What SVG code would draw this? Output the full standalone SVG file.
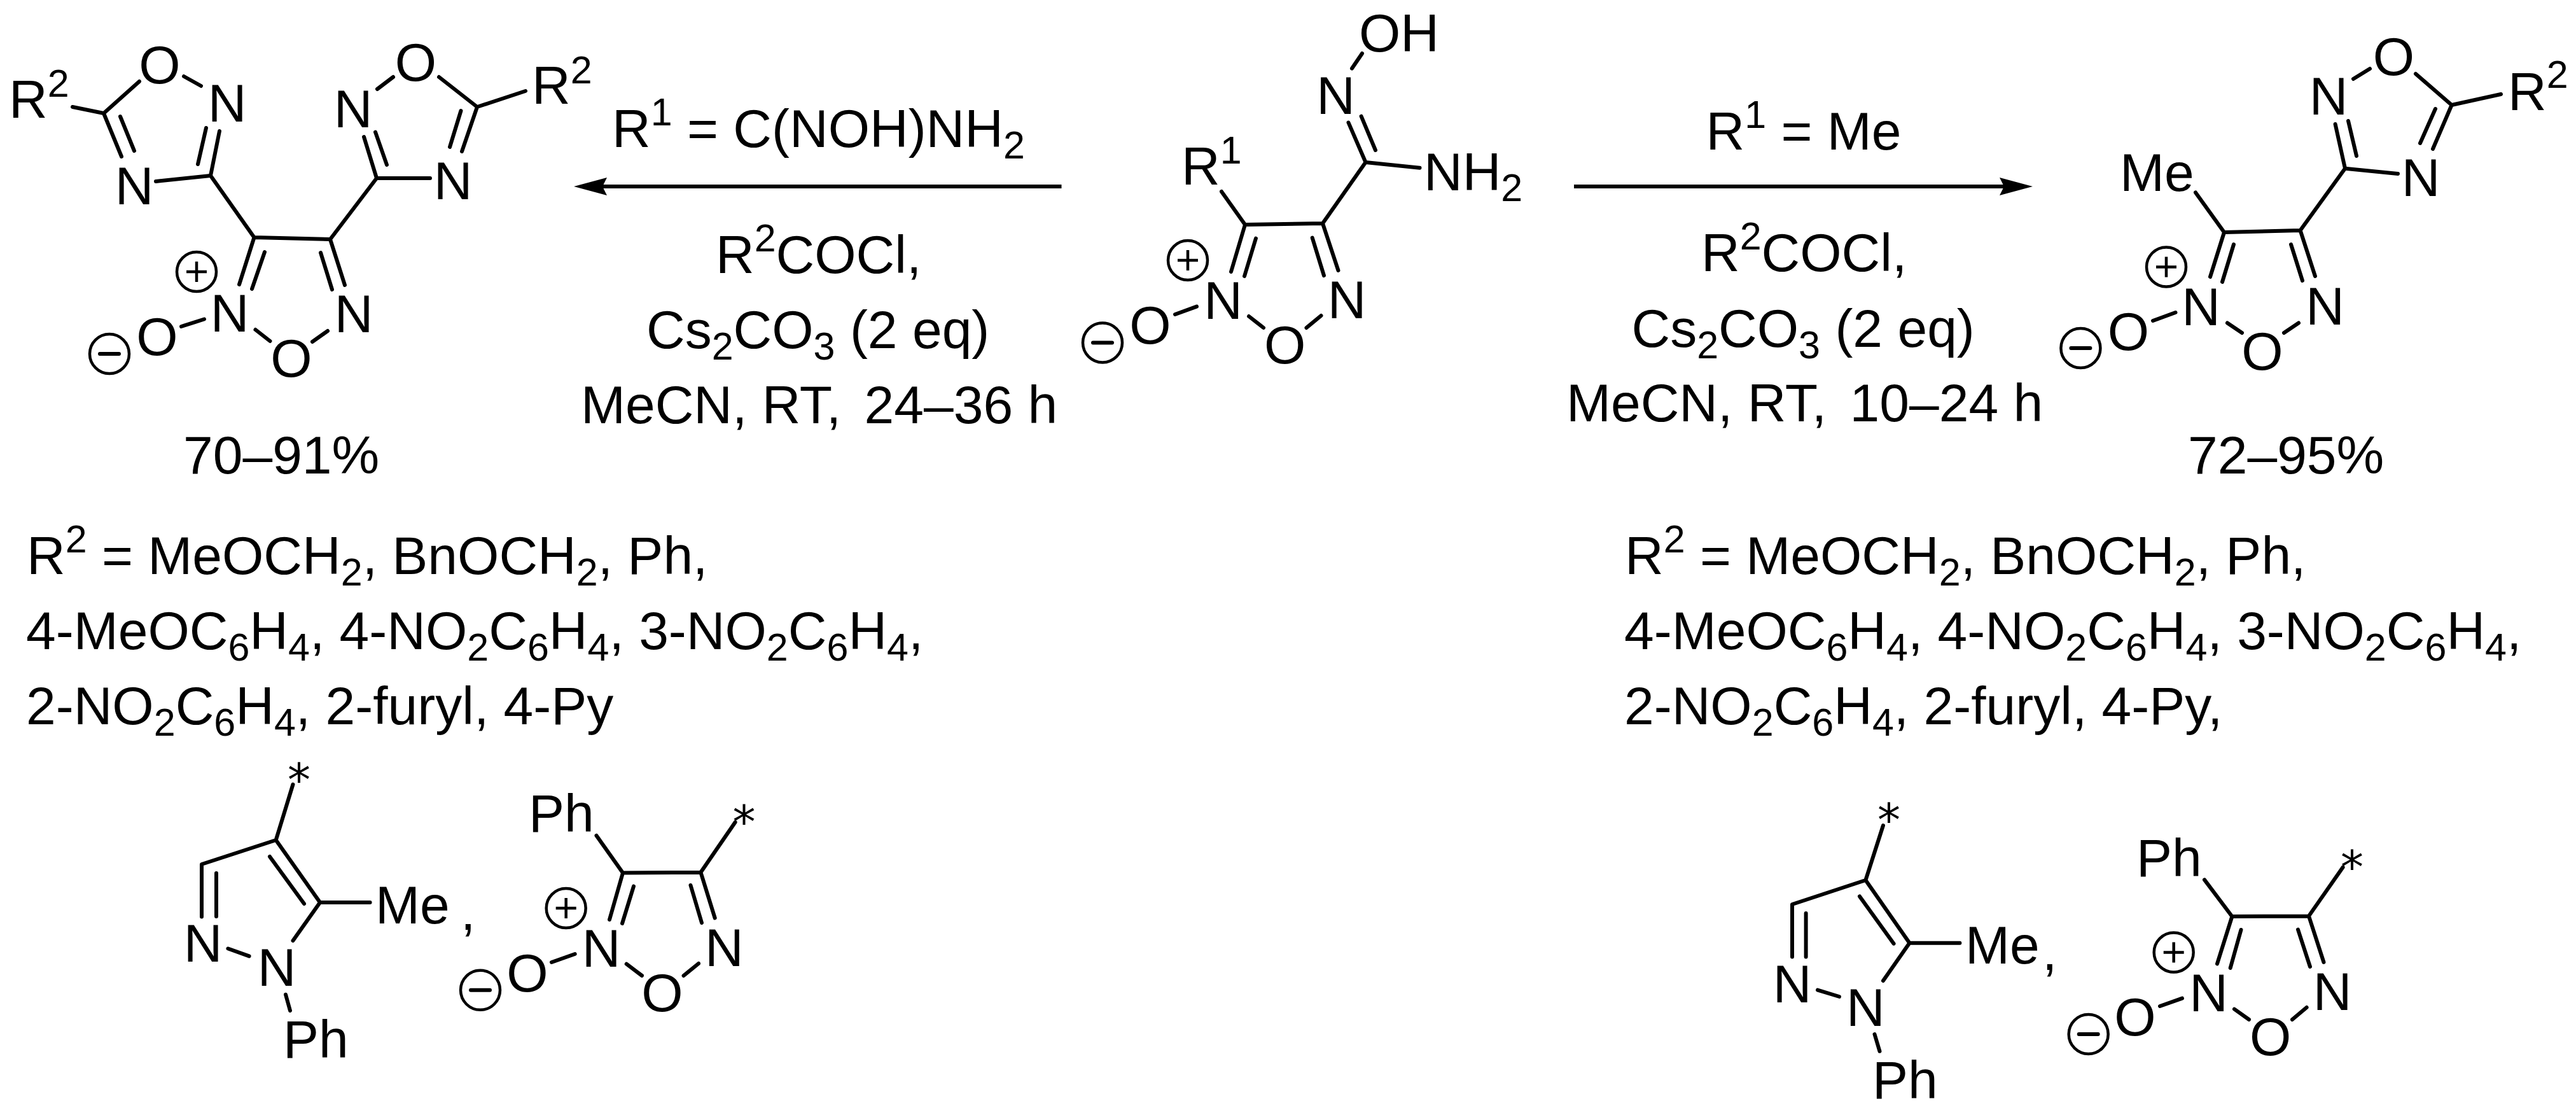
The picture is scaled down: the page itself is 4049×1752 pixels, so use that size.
<svg xmlns="http://www.w3.org/2000/svg" width="4049" height="1752" viewBox="0 0 4049 1752">
<style>
text{font-family:"Liberation Sans",Arial,sans-serif;font-size:84px;fill:#000}
.a{text-anchor:middle}
.s{font-size:61px}
.st{font-family:"DejaVu Sans",sans-serif;font-size:72px;text-anchor:middle}
.b{fill:none;stroke:#000;stroke-width:6;stroke-linecap:round;stroke-linejoin:round}
.c{fill:none;stroke:#000;stroke-width:4.5}
.ar{fill:none;stroke:#000;stroke-width:6}
</style>
<defs>
<g id="plus"><circle class="c" r="31"/><path class="c" d="M-16 0H16M0-16V16"/></g>
<g id="minus"><circle class="c" r="31"/><path class="b" d="M-15 0H15"/></g>
<marker id="head" markerUnits="userSpaceOnUse" markerWidth="54" markerHeight="30" refX="7" refY="15" orient="auto"><path d="M52 15L0 1L7 15L0 29Z" fill="#000"/></marker>
</defs>
<rect width="4049" height="1752" fill="#fff"/>

<g id="connectors">
<path class="ar" d="M1668.500 293H947" marker-end="url(#head)"/>
<path class="ar" d="M2474 293H3150" marker-end="url(#head)"/>
</g>

<g id="product-left">
<path class="b" d="M163 178L219 128M289 120L316 135M163 178L114 168M163 178L191 246M189 183L211 237M331 276L345 206M324 201L311 258M331 276L245 285M331 276L399.500 373L519 376L592 280M399.500 373L376 447M416 396L396 454M519 376L542 448M504 397L522 455M285 513L321 501.500M401.500 518L424.500 536M491 537L515 520M593 140L618 121M690 121L750 168L726 238M724.500 174L707 231M592 280L572 215M608 259L590 207.500M592 280L676 280M750 168L826 143"/>
<text x="14" y="185">R<tspan class="s" dy="-33">2</tspan></text>
<text class="a" x="251" y="131">O</text><text class="a" x="357" y="191">N</text><text class="a" x="211" y="321">N</text>
<text class="a" x="361" y="521">N</text><text class="a" x="556" y="522">N</text><text class="a" x="458" y="592">O</text><text class="a" x="247" y="558">O</text>
<text class="a" x="555" y="200">N</text><text class="a" x="653.500" y="127">O</text><text class="a" x="712" y="313">N</text>
<text x="836" y="163">R<tspan class="s" dy="-32">2</tspan></text>
<use href="#plus" x="309" y="427"/><use href="#minus" x="172" y="556"/>
<text x="288" y="744">70–91%</text>
</g>

<g id="reactant">
<path class="b" d="M2125 107.500L2141 84M2146.500 255L2119.500 192.600M2162 236L2139.600 182.700M2146.500 255L2231.500 263.700M2146.500 255L2079 351L1957 353L1920 301M1957 353L1935 427M1974 374.500L1956 434M2079 351L2103.500 425M2062.700 373.700L2081 433M1847 494L1881 481.600M1963 497L1986 515M2053.500 515L2076.500 496"/>
<text x="2136" y="81">OH</text><text class="a" x="2099.500" y="179">N</text>
<text x="2238" y="299">NH<tspan class="s" dy="17">2</tspan></text>
<text x="1857" y="290">R<tspan class="s" dy="-33">1</tspan></text>
<text class="a" x="1922.600" y="501">N</text><text class="a" x="2117" y="500">N</text><text class="a" x="2019.600" y="571">O</text><text class="a" x="1808" y="540">O</text>
<use href="#plus" x="1867" y="409"/><use href="#minus" x="1733" y="538.500"/>
</g>

<g id="product-right">
<path class="b" d="M3797 116L3853.600 165L3824 234M3699 124L3725 108M3853.600 165L3931 148M3828 171L3804 225M3686 264.700L3670.600 195M3704 245L3691 190M3686 264.700L3769 273M3686 264.700L3615.600 362L3496 365L3451 302.500M3496 365L3474 435M3511 384L3493 443M3615.600 362L3639 434M3601 384L3619 441M3384 504L3419.500 491M3501 507.500L3524 523M3590 523L3613 507.500"/>
<text x="3942" y="173">R<tspan class="s" dy="-35">2</tspan></text>
<text class="a" x="3762.400" y="118">O</text><text class="a" x="3660" y="180">N</text><text class="a" x="3805" y="308">N</text>
<text x="3332" y="300">Me</text>
<text class="a" x="3459.600" y="511">N</text><text class="a" x="3654.600" y="510">N</text><text class="a" x="3556" y="581">O</text><text class="a" x="3345.500" y="550">O</text>
<use href="#plus" x="3405" y="419.400"/><use href="#minus" x="3270.400" y="547"/>
<text x="3439" y="744">72–95%</text>
</g>

<g id="conditions-left">
<text x="962" y="231">R<tspan class="s" dy="-34">1</tspan><tspan dy="34"> = C(NOH)NH</tspan><tspan class="s" dy="18">2</tspan></text>
<text x="1125" y="429">R<tspan class="s" dy="-34">2</tspan><tspan dy="34">COCl,</tspan></text>
<text x="1016" y="547">Cs<tspan class="s" dy="18">2</tspan><tspan dy="-18">CO</tspan><tspan class="s" dy="18">3</tspan><tspan dy="-18"> (2 eq)</tspan></text>
<text x="913" y="665">MeCN, RT,<tspan dx="13"> 24–36 h</tspan></text>
</g>

<g id="conditions-right">
<text x="2681.500" y="235">R<tspan class="s" dy="-34">1</tspan><tspan dy="34"> = Me</tspan></text>
<text x="2674" y="426">R<tspan class="s" dy="-34">2</tspan><tspan dy="34">COCl,</tspan></text>
<text x="2564.500" y="545">Cs<tspan class="s" dy="18">2</tspan><tspan dy="-18">CO</tspan><tspan class="s" dy="18">3</tspan><tspan dy="-18"> (2 eq)</tspan></text>
<text x="2462" y="662">MeCN, RT,<tspan dx="13"> 10–24 h</tspan></text>
</g>

<g id="r2-list-left">
<text x="42" y="902">R<tspan class="s" dy="-34">2</tspan><tspan dy="34"> = MeOCH</tspan><tspan class="s" dy="18">2</tspan><tspan dy="-18">, BnOCH</tspan><tspan class="s" dy="18">2</tspan><tspan dy="-18">, Ph,</tspan></text>
<text x="41" y="1020">4-MeOC<tspan class="s" dy="18">6</tspan><tspan dy="-18">H</tspan><tspan class="s" dy="18">4</tspan><tspan dy="-18">, 4-NO</tspan><tspan class="s" dy="18">2</tspan><tspan dy="-18">C</tspan><tspan class="s" dy="18">6</tspan><tspan dy="-18">H</tspan><tspan class="s" dy="18">4</tspan><tspan dy="-18">, 3-NO</tspan><tspan class="s" dy="18">2</tspan><tspan dy="-18">C</tspan><tspan class="s" dy="18">6</tspan><tspan dy="-18">H</tspan><tspan class="s" dy="18">4</tspan><tspan dy="-18">,</tspan></text>
<text x="41" y="1138">2-NO<tspan class="s" dy="18">2</tspan><tspan dy="-18">C</tspan><tspan class="s" dy="18">6</tspan><tspan dy="-18">H</tspan><tspan class="s" dy="18">4</tspan><tspan dy="-18">, 2-furyl, 4-Py</tspan></text>
</g>

<g id="r2-list-right">
<text x="2554" y="902">R<tspan class="s" dy="-34">2</tspan><tspan dy="34"> = MeOCH</tspan><tspan class="s" dy="18">2</tspan><tspan dy="-18">, BnOCH</tspan><tspan class="s" dy="18">2</tspan><tspan dy="-18">, Ph,</tspan></text>
<text x="2553" y="1020">4-MeOC<tspan class="s" dy="18">6</tspan><tspan dy="-18">H</tspan><tspan class="s" dy="18">4</tspan><tspan dy="-18">, 4-NO</tspan><tspan class="s" dy="18">2</tspan><tspan dy="-18">C</tspan><tspan class="s" dy="18">6</tspan><tspan dy="-18">H</tspan><tspan class="s" dy="18">4</tspan><tspan dy="-18">, 3-NO</tspan><tspan class="s" dy="18">2</tspan><tspan dy="-18">C</tspan><tspan class="s" dy="18">6</tspan><tspan dy="-18">H</tspan><tspan class="s" dy="18">4</tspan><tspan dy="-18">,</tspan></text>
<text x="2553" y="1138">2-NO<tspan class="s" dy="18">2</tspan><tspan dy="-18">C</tspan><tspan class="s" dy="18">6</tspan><tspan dy="-18">H</tspan><tspan class="s" dy="18">4</tspan><tspan dy="-18">, 2-furyl, 4-Py,</tspan></text>
</g>

<g id="pyrazole-left">
<path class="b" d="M460.500 1232.500L433.700 1320L317 1358L317 1440.600M340 1372L340 1440M433.700 1320L503 1418M424 1346L478 1420M503 1418H581.600M503 1418L460.500 1478M358.400 1490.500L391.600 1502.400M449 1562.700L456 1588"/>
<text class="st" x="470" y="1250">*</text>
<text x="590" y="1451">Me</text><text x="724" y="1461">,</text>
<text class="a" x="319" y="1511">N</text><text class="a" x="435" y="1549">N</text><text x="445" y="1662">Ph</text>
</g>

<g id="furoxan-left">
<path class="b" d="M937.500 1313L979 1371.500L1101.400 1370.700L1155.600 1292M979 1371.500L958 1445M996 1392.600L978 1451M1101.400 1370.700L1123.700 1442.500M1085.500 1391L1103 1450M867 1512L903.700 1499M984.700 1514.700L1009 1533M1074.600 1533L1098 1514"/>
<text x="831" y="1307">Ph</text><text class="st" x="1169.600" y="1316">*</text>
<text class="a" x="945" y="1519">N</text><text class="a" x="1138.400" y="1518">N</text><text class="a" x="1041" y="1589">O</text><text class="a" x="829" y="1558">O</text>
<use href="#plus" x="889.700" y="1427"/><use href="#minus" x="755" y="1555.800"/>
</g>

<g id="pyrazole-right">
<path class="b" d="M2960 1297L2932.400 1383L2817 1421L2817 1503.500M2838.600 1435L2838.600 1503.500M2932.400 1383L3001.400 1481.700M2923 1408.500L2976.600 1482.700M3001.400 1481.700H3080.400M3001.400 1481.700L2960 1541M2857 1555.600L2891 1566M2946.500 1625L2954.500 1651.800"/>
<text class="st" x="2969" y="1313">*</text>
<text x="3089" y="1514">Me</text><text x="3210" y="1524">,</text>
<text class="a" x="2817" y="1575">N</text><text class="a" x="2932.400" y="1612">N</text><text x="2943" y="1726">Ph</text>
</g>

<g id="furoxan-right">
<path class="b" d="M3465 1382.400L3508.400 1440L3629 1439.400L3682.600 1362.700M3508.400 1440L3485 1514.400M3522.500 1461L3505.700 1521M3629 1439.400L3652.500 1512M3612 1460.600L3631 1519M3395 1581L3430 1568.700M3512 1585.600L3535 1602M3603 1602L3625.600 1583"/>
<text x="3358" y="1377">Ph</text><text class="st" x="3697" y="1387">*</text>
<text class="a" x="3471.600" y="1589">N</text><text class="a" x="3666" y="1587">N</text><text class="a" x="3568.700" y="1658">O</text><text class="a" x="3356" y="1627">O</text>
<use href="#plus" x="3416.700" y="1496.500"/><use href="#minus" x="3282.700" y="1625"/>
</g>
</svg>
